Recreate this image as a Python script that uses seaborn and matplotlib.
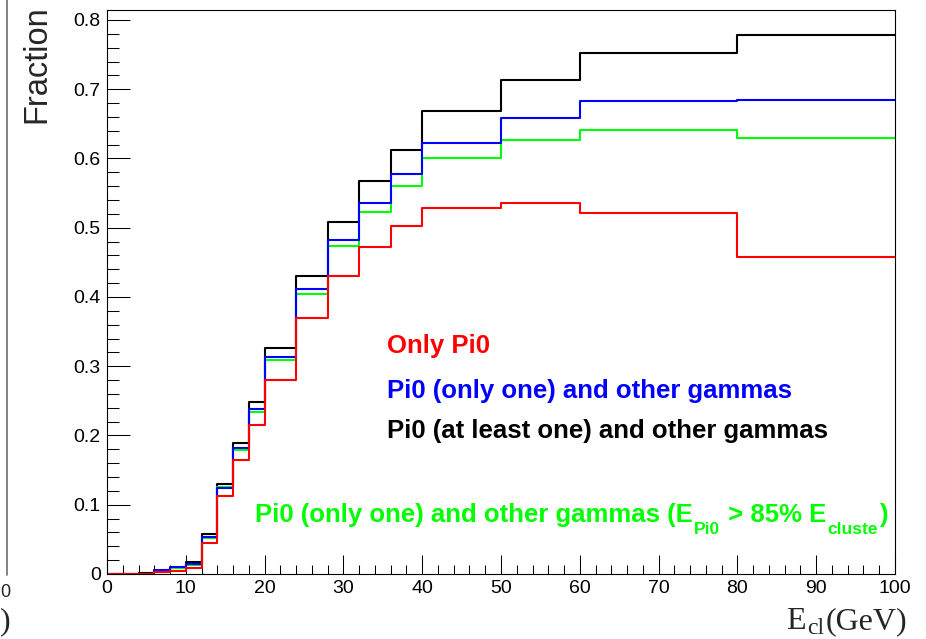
import numpy as np
import pandas as pd
import seaborn as sns
import matplotlib
matplotlib.use("Agg")
import matplotlib.pyplot as plt
from matplotlib.lines import Line2D
from matplotlib.ticker import MultipleLocator, FuncFormatter

# Cluster-energy binning (GeV) and the fraction of clusters in each bin
edges = [0, 2, 4, 6, 8, 10, 12, 14, 16, 18, 20, 24, 28, 32, 36, 40, 50, 60, 80, 100]

frac_pi0_at_least_one = [0.000, 0.000, 0.002, 0.004, 0.008, 0.018, 0.058, 0.130, 0.189, 0.249,
                         0.327, 0.430, 0.508, 0.568, 0.612, 0.669, 0.714, 0.752, 0.778]
frac_pi0_only_one = [0.000, 0.000, 0.000, 0.006, 0.010, 0.014, 0.054, 0.124, 0.182, 0.238,
                     0.313, 0.412, 0.482, 0.536, 0.577, 0.623, 0.659, 0.683, 0.684]
frac_pi0_only_one_85 = [0.000, 0.000, 0.000, 0.005, 0.009, 0.013, 0.052, 0.126, 0.179, 0.234,
                        0.309, 0.404, 0.473, 0.523, 0.560, 0.601, 0.627, 0.641, 0.629]
frac_only_pi0 = [0.000, 0.000, 0.000, 0.003, 0.005, 0.008, 0.045, 0.113, 0.165, 0.215,
                 0.280, 0.369, 0.430, 0.472, 0.502, 0.529, 0.536, 0.521, 0.458]

y_title = "Fraction"

W, H = 926, 639
RED, BLUE, GREEN, BLACK = "#ff0000", "#0000ff", "#00ff00", "#000000"

sns.set_style("ticks")
plt.rcParams["font.family"] = ["Liberation Sans", "DejaVu Sans"]

fig = plt.figure(figsize=(W / 100, H / 100), dpi=100)
ax = fig.add_axes([107 / W, 65 / H, 788 / W, 564 / H])

centers = 0.5 * (np.array(edges[:-1]) + np.array(edges[1:]))

# Draw order: black, green, blue, then red on top
for values, color in [(frac_pi0_at_least_one, BLACK),
                      (frac_pi0_only_one_85, GREEN),
                      (frac_pi0_only_one, BLUE),
                      (frac_only_pi0, RED)]:
    df = pd.DataFrame({"E": centers, "frac": values})
    sns.histplot(data=df, x="E", weights="frac", bins=edges, element="step",
                 fill=False, color=color, linewidth=1.5, ax=ax)

ax.set_xlim(0, 100)
ax.set_ylim(0, 0.8144)
ax.set_xlabel("")
ax.set_ylabel("")

ax.xaxis.set_major_locator(MultipleLocator(10))
ax.xaxis.set_minor_locator(MultipleLocator(2))
ax.yaxis.set_major_locator(MultipleLocator(0.1))
ax.yaxis.set_minor_locator(MultipleLocator(0.02))
ax.yaxis.set_major_formatter(FuncFormatter(lambda v, p: "0" if abs(v) < 1e-9 else f"{v:.1f}"))

ax.tick_params(axis="both", which="both", direction="in", top=False, right=False,
               width=0.75, colors="black", labelsize=14)
ax.tick_params(axis="x", which="major", length=13.5, pad=4)
ax.tick_params(axis="x", which="minor", length=6.5)
ax.tick_params(axis="y", which="major", length=16.5, pad=4.5)
ax.tick_params(axis="y", which="minor", length=8.6)
for s in ax.spines.values():
    s.set_visible(True)
    s.set_linewidth(0.8)
    s.set_color("black")

# Axis titles, ROOT-style
fig.text(52 / W, 1 - 5 / H, y_title, rotation=90, ha="right", va="top", fontsize=23.5)

xt = fig.text(786, 10, "E", transform=None, ha="left", va="baseline",
              fontsize=23, family="Liberation Serif")
xs = ax.annotate("cl", xy=(1, 5), xycoords=(xt, "figure pixels"), xytext=(1, 0),
                 textcoords="offset pixels", ha="left", va="baseline",
                 fontsize=17, family="Liberation Serif", annotation_clip=False)
ax.annotate("(GeV)", xy=(1, 10), xycoords=(xs, "figure pixels"), xytext=(2, 0),
            textcoords="offset pixels", ha="left", va="baseline",
            fontsize=23, family="Liberation Serif", annotation_clip=False)

# Legend entries written as coloured labels
ax.text(0.3553, 0.3918, "Only Pi0", transform=ax.transAxes, color=RED,
        fontsize=18.5, fontweight="bold", va="baseline")
ax.text(0.3553, 0.3121, "Pi0 (only one) and other gammas", transform=ax.transAxes,
        color=BLUE, fontsize=18.5, fontweight="bold", va="baseline")
ax.text(0.3553, 0.2411, "Pi0 (at least one) and other gammas", transform=ax.transAxes,
        color=BLACK, fontsize=18.5, fontweight="bold", va="baseline")

# Green label with subscripts, built piece by piece on shared baselines
base = H - 522
pieces = [("Pi0 (only one) and other gammas (E", 18.5, base),
          ("Pi0", 12.5, base - 12),
          (" > 85% E", 18.5, base),
          ("cluste", 12.5, base - 12),
          (")", 18.5, base)]
prev = None
for txt, size, yb in pieces:
    if prev is None:
        prev = fig.text(255, yb, txt, transform=None, ha="left", va="baseline",
                        color=GREEN, fontsize=size, fontweight="bold")
    else:
        prev = ax.annotate(txt, xy=(1, yb), xycoords=(prev, "figure pixels"),
                           xytext=(1, 0), textcoords="offset pixels", ha="left",
                           va="baseline", color=GREEN, fontsize=size,
                           fontweight="bold", annotation_clip=False)

# Edge of the neighbouring pad on the left
fig.add_artist(Line2D([6.5 / W, 6.5 / W], [64 / H, 1.0], color="#6e6e6e", lw=1.2))
fig.text(0, H - 597, "0", transform=None, ha="left", va="baseline", fontsize=13)
fig.text(0, 10, ")", transform=None, ha="left", va="baseline",
         fontsize=23, family="Liberation Serif")

fig.savefig("out.png", dpi=100, facecolor="white")
